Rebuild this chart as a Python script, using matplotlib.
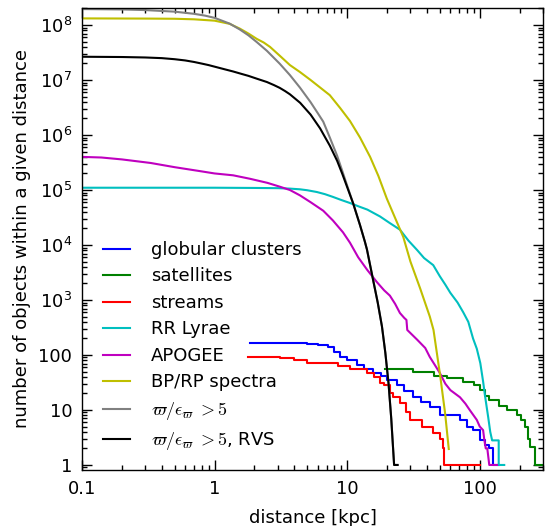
import matplotlib
matplotlib.use("Agg")
import matplotlib.pyplot as plt
from matplotlib.font_manager import FontProperties
from matplotlib.ticker import FixedLocator, FixedFormatter, LogLocator, NullFormatter
import numpy as np

# ---- data ----
gc_d = [1.85, 5, 6, 7.2, 8, 8.9, 10, 11.9, 13.5, 15.7, 18, 20, 23.8, 27, 31.5, 36, 42, 50, 60, 71, 80, 89, 101, 110, 118, 126, 140]
gc_n = [165, 160, 150, 140, 115, 92, 80, 66, 55, 47, 42, 35, 28, 22, 17, 14, 11.3, 8.1, 8, 6.6, 5, 4.3, 2.8, 2.3, 2, 1, 1]

sat_d = [19.4, 31.5, 45, 57, 75, 90, 101, 110, 118, 140, 161, 192, 205, 220, 232, 240, 262, 300]
sat_n = [56, 49, 42, 38, 32, 28, 23, 18, 15, 12, 10, 8.1, 6.5, 4.9, 3, 2.1, 1, 1]

str_d = [1.79, 3.1, 4, 5, 7.2, 8.5, 10.5, 14.2, 16, 17.7, 19, 21, 22, 25, 28, 29.9, 37, 44.6, 50, 53, 54, 101]
str_n = [92, 88, 80, 71, 71, 62, 56, 47, 40, 31, 28, 20, 17, 13.4, 9, 6.6, 4.9, 3.8, 3, 2, 1, 1]

rrl_d = [0.1, 0.5, 1, 2, 3, 3.7, 4.4, 5.0, 5.9, 6.8, 7.8, 9, 10.5, 12.3, 14.2, 17.7, 21, 25, 29, 33.7, 38, 44.6, 50, 55, 60, 68, 75, 82, 89, 95, 101, 106, 110, 116, 120, 124, 139, 139, 153]
rrl_n = [1.1e5, 1.1e5, 1.1e5, 1.09e5, 1.08e5, 1.06e5, 1.03e5, 9.9e4, 9.2e4, 8.4e4, 7.5e4, 6.6e4, 5.8e4, 5.0e4, 4.4e4, 3.3e4, 2.5e4, 1.9e4, 1.2e4, 8.1e3, 5.8e3, 4.3e3, 2.7e3, 1.9e3, 1.35e3, 900, 600, 400, 200, 130, 71, 33, 17, 7.2, 4, 2.8, 2.8, 1, 1]

apo_d = [0.1, 0.14, 0.2, 0.33, 0.5, 0.78, 1.0, 1.38, 1.85, 2.5, 3.1, 3.7, 4.4, 5.3, 6.6, 7.8, 9.3, 10.5, 12.1, 14.2, 16.8, 19, 21, 23, 25, 27, 28, 28.4, 33.7, 38.8, 42, 46, 50, 55, 60, 71, 78, 84, 95, 100, 106, 108, 111, 114, 118, 135]
apo_n = [4e5, 3.9e5, 3.6e5, 3.1e5, 2.6e5, 2.2e5, 2.0e5, 1.85e5, 1.6e5, 1.35e5, 1.15e5, 1.0e5, 8e4, 6e4, 4.2e4, 2.8e4, 1.7e4, 1.1e4, 6e3, 3.5e3, 2.1e3, 1.5e3, 1.2e3, 850, 580, 470, 434, 285, 190, 134, 92, 65, 47, 30, 23, 17, 13, 10, 6.6, 5, 4.3, 3, 2, 2, 1, 1]

bprp_d = [0.1, 0.3, 0.5, 0.7, 1.0, 1.3, 1.55, 1.8, 2.08, 2.35, 2.62, 3.11, 3.7, 4.4, 5.3, 6.3, 7.4, 8.85, 10.5, 12.5, 14.9, 17.2, 19.9, 23, 26.5, 30, 35.6, 42, 44.8, 50.3, 54.8, 58.4]
bprp_n = [1.32e8, 1.31e8, 1.3e8, 1.27e8, 1.2e8, 1.05e8, 8.6e7, 7e7, 5.6e7, 4.8e7, 4.0e7, 2.75e7, 1.87e7, 1.4e7, 1.0e7, 7.2e6, 5.3e6, 3.1e6, 1.8e6, 9e5, 4e5, 1.8e5, 7e4, 3.1e4, 1.4e4, 5e3, 1.6e3, 500, 285, 42, 8.7, 1.95]

plx_d = [0.1, 0.2, 0.3, 0.5, 0.7, 0.85, 1.0, 1.3, 1.55, 1.8, 2.08, 2.48, 3.1, 3.7, 4.4, 5.3, 6.0, 6.6, 7.4, 8.4, 9.2, 10, 11.1, 12.5, 13.6, 14.1, 15.7, 17, 18.3, 19.4, 20.5, 21.5, 22.6, 24]
plx_n = [1.95e8, 1.92e8, 1.87e8, 1.75e8, 1.6e8, 1.48e8, 1.35e8, 1.06e8, 8.3e7, 6.5e7, 4.9e7, 3.4e7, 1.98e7, 1.23e7, 7.3e6, 3.95e6, 2.5e6, 1.75e6, 9e5, 4.2e5, 2.2e5, 1.2e5, 5.7e4, 2.3e4, 1.15e4, 8.3e3, 2.3e3, 900, 330, 110, 31, 7, 1, 1]

rvs_d = [0.1, 0.2, 0.3, 0.4, 0.5, 0.6, 0.7, 0.8, 0.9, 1.0, 1.2, 1.38, 1.6, 1.8, 2.1, 2.48, 2.8, 3.1, 3.4, 3.7, 4.42, 5.3, 6.25, 7.4, 8.4, 9.2, 10, 11.1, 12.5, 13.6, 14.1, 15.7, 17, 18.3, 19.4, 20.5, 21.5, 22.6, 24]
rvs_n = [2.65e7, 2.62e7, 2.57e7, 2.5e7, 2.39e7, 2.27e7, 2.13e7, 1.99e7, 1.87e7, 1.75e7, 1.56e7, 1.43e7, 1.29e7, 1.19e7, 1.05e7, 9.2e6, 8.1e6, 7.2e6, 6.3e6, 5.5e6, 3.85e6, 2.35e6, 1.32e6, 6.4e5, 3.4e5, 1.95e5, 1.13e5, 5.7e4, 2.3e4, 1.15e4, 8.3e3, 2.3e3, 900, 330, 110, 31, 7, 1, 1]

labels = ["globular clusters", "satellites", "streams", "RR Lyrae", "APOGEE",
          "BP/RP spectra", r"$\varpi/\epsilon_\varpi\;{>}5$", r"$\varpi/\epsilon_\varpi\;{>}5$, RVS"]
colors = ["b", "g", "r", "c", "m", "y", "0.5", "k"]

xticks = [0.1, 1, 10, 100]
xticklabels = ["0.1", "1", "10", "100"]
yticks = [1, 10, 100, 1e3, 1e4, 1e5, 1e6, 1e7, 1e8]
yticklabels = ["1", "10", "100", r"$10^3$", r"$10^4$", r"$10^5$", r"$10^6$", r"$10^7$", r"$10^8$"]

# ---- figure ----
fs = 13
fig = plt.figure(figsize=(5.45, 5.26), dpi=100)
ax = fig.add_axes([82/545, 56/526, 461/545, 462/526])

lw = 1.5
ax.plot(gc_d, gc_n, color=colors[0], lw=lw, drawstyle="steps-post", label=labels[0])
ax.plot(sat_d, sat_n, color=colors[1], lw=lw, drawstyle="steps-post", label=labels[1])
ax.plot(str_d, str_n, color=colors[2], lw=lw, drawstyle="steps-post", label=labels[2])
ax.plot(rrl_d, rrl_n, color=colors[3], lw=lw, label=labels[3])
ax.plot(apo_d, apo_n, color=colors[4], lw=lw, label=labels[4])
ax.plot(bprp_d, bprp_n, color=colors[5], lw=lw, label=labels[5])
ax.plot(plx_d, plx_n, color=colors[6], lw=lw, label=labels[6])
ax.plot(rvs_d, rvs_n, color=colors[7], lw=lw, label=labels[7])

ax.set_xscale("log")
ax.set_yscale("log")
ax.set_xlim(0.1, 300)
ax.set_ylim(0.81, 2.04e8)

ax.xaxis.set_major_locator(FixedLocator(xticks))
ax.xaxis.set_major_formatter(FixedFormatter(xticklabels))
ax.yaxis.set_major_locator(FixedLocator(yticks))
ax.yaxis.set_major_formatter(FixedFormatter(yticklabels))
ax.xaxis.set_minor_locator(LogLocator(base=10, subs=np.arange(2, 10), numticks=20))
ax.yaxis.set_minor_locator(LogLocator(base=10, subs=np.arange(2, 10), numticks=20))
ax.xaxis.set_minor_formatter(NullFormatter())
ax.yaxis.set_minor_formatter(NullFormatter())

ax.tick_params(which="both", direction="in", top=True, right=True, labelsize=fs, pad=7)
ax.tick_params(which="major", length=7, width=1)
ax.tick_params(which="minor", length=3.5, width=1)
for s in ax.spines.values():
    s.set_linewidth(1.0)

ax.set_xlabel("distance [kpc]", fontsize=fs, labelpad=8)
ax.set_ylabel("number of objects within a given distance", fontsize=fs, labelpad=5)

prop = FontProperties(family="DejaVu Sans", size=fs, math_fontfamily="cm")
ax.legend(loc="upper left", bbox_to_anchor=(103/545, 1 - 241/526), bbox_transform=fig.transFigure,
          frameon=False, prop=prop, handlelength=1.5, handletextpad=1.15, labelspacing=0.47,
          borderpad=0, borderaxespad=0)

fig.savefig("out.png", dpi=100)
